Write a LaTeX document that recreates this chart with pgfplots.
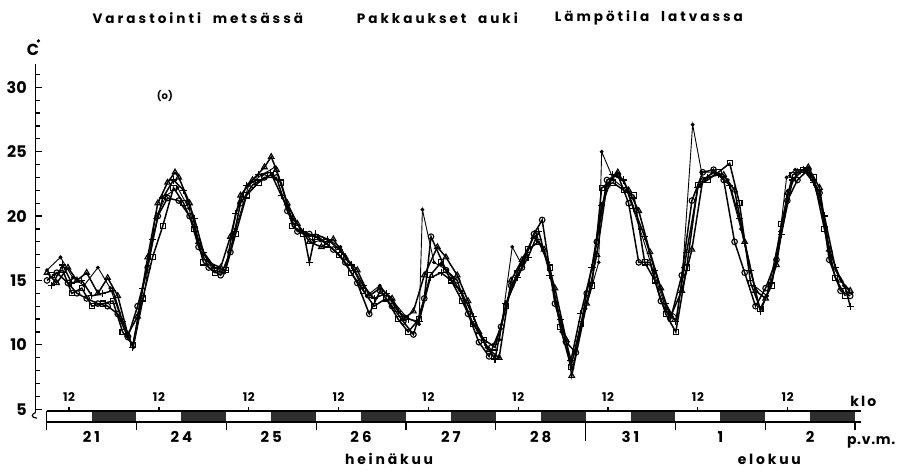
\documentclass[border=0pt]{standalone}
\usepackage{fontspec}
\setmainfont{Poppins}
\usepackage{pgfplots}
\pgfplotsset{compat=1.18}
\newcommand{\lab}[1]{\bfseries\addfontfeatures{LetterSpace=#1}}
\begin{document}
\begin{tikzpicture}
\begin{axis}[
  x=1.875pt, y=6.45pt,
  xmin=-2.9, xmax=218, ymin=4.75, ymax=31.8,
  axis x line=none, axis y line=left,
  axis line style={-, line width=0.7pt},
  ytick={5,10,...,30},
  minor ytick={6,7,8,9,11,12,13,14,16,17,18,19,21,22,23,24,26,27,28,29,31},
  tick align=inside, ytick pos=left,
  major tick length=3pt, minor tick length=2pt,
  tick style={line width=0.6pt, black},
  /pgf/number format/assume math mode=true,
  yticklabel style={font=\bfseries\fontsize{8}{8}\selectfont, xshift=-1pt},
  clip=false,
  every axis plot/.append style={black, line width=0.75pt},
]
% invisible frame fixing the picture's extent
\path (axis cs:-12.45,0.43) rectangle (axis cs:228.1,36.78);

% series 1: circles
\addplot[mark=o, mark size=1.4pt, mark options={fill=white, line width=0.55pt}] coordinates {
(0.1,15.0)(2.7,15.6)(5.7,14.8)(8.1,14.0)(10.7,13.6)(13.7,13.2)(16.3,13.0)(19.0,12.4)(21.7,10.6)(24.3,13.0)
(27.0,16.0)(29.7,20.0)(32.3,21.4)(35.3,21.2)(38.2,20.0)(40.6,17.6)(43.3,16.0)(46.5,15.4)(49.1,17.2)(51.8,21.0)
(55.0,22.4)(58.2,23.0)(61.4,23.0)(64.3,20.4)(67.0,18.8)(70.2,18.6)(73.4,18.2)(76.6,17.4)(79.8,16.4)(83.0,14.8)
(86.2,12.4)(89.1,14.2)(92.3,13.0)(95.3,11.8)(98.0,10.8)(100.9,13.6)(102.7,18.4)(106.7,15.8)(109.7,15.0)(112.6,12.4)
(115.5,10.2)(118.2,9.1)(121.4,11.4)(124.1,14.6)(127.0,16.0)(130.2,18.6)(132.4,19.7)(135.8,13.2)(138.8,10.2)(141.4,9.4)
(144.3,14.0)(147.0,18.0)(149.7,22.8)(152.6,23.2)(155.5,21.0)(158.2,16.4)(161.2,16.4)(164.1,13.4)(166.7,12.0)(169.7,15.4)
(172.4,21.2)(175.3,23.4)(178.2,23.6)(180.9,22.8)(183.8,18.0)(186.5,15.6)(189.4,13.0)(192.1,14.4)(195.0,16.6)(197.9,21.2)
(200.6,22.8)(203.5,23.6)(206.5,21.8)(209.1,16.6)(212.1,14.2)(214.7,13.8)
};
% series 2: squares
\addplot[mark=square, mark size=1.3pt, mark options={fill=white, line width=0.55pt}] coordinates {
(1.4,15.4)(4.3,15.8)(6.7,14.0)(9.4,14.4)(12.1,13.0)(15.0,13.2)(17.7,13.4)(20.3,11.0)(23.0,10.0)(25.7,13.6)
(28.3,16.8)(31.0,19.2)(33.9,22.2)(36.6,21.0)(39.5,19.0)(41.9,16.4)(44.9,15.6)(47.8,15.8)(50.5,18.6)(53.4,21.6)
(56.6,22.6)(59.8,23.2)(62.7,22.6)(65.7,19.2)(68.6,18.6)(71.8,18.4)(75.0,17.8)(78.2,17.0)(81.4,15.6)(84.6,14.2)
(87.5,13.0)(90.7,13.6)(93.9,12.0)(96.6,11.0)(99.5,12.0)(102.5,15.4)(105.4,16.4)(108.1,15.0)(111.0,13.4)(114.0,11.6)
(116.9,10.4)(119.8,9.8)(122.7,13.0)(125.7,15.6)(128.6,17.4)(131.5,18.0)(134.5,16.0)(137.2,11.4)(140.1,8.3)(142.7,11.6)
(145.7,14.6)(148.3,22.2)(151.3,22.6)(154.2,22.0)(156.9,21.6)(159.8,16.4)(162.5,15.0)(165.4,12.4)(168.1,11.0)(171.0,16.0)
(174.0,22.4)(176.6,22.8)(179.5,23.4)(182.5,24.1)(185.1,21.0)(188.1,14.8)(190.7,12.8)(193.7,14.6)(196.3,19.4)(199.3,23.2)
(202.2,23.6)(204.9,23.0)(207.8,19.0)(210.7,15.2)(213.4,13.8)
};
% series 3: triangles
\addplot[mark=triangle, mark size=1.6pt, mark options={fill=white, line width=0.55pt}] coordinates {
(0.1,15.6)(2.7,14.8)(5.7,16.0)(8.1,15.0)(10.7,15.6)(13.7,14.0)(16.3,15.2)(19.0,13.8)(21.7,10.8)(24.3,12.2)
(27.0,16.8)(29.7,21.0)(32.3,22.6)(34.3,23.4)(35.3,23.0)(38.2,21.0)(40.6,18.0)(43.3,16.4)(46.5,16.0)(49.1,18.4)
(51.8,21.6)(55.0,22.8)(58.2,23.8)(60.0,24.6)(61.4,23.6)(64.3,21.0)(67.0,19.4)(70.2,18.0)(73.4,17.6)(76.6,18.2)
(79.8,16.8)(83.0,15.8)(86.2,13.8)(89.1,14.4)(92.3,13.6)(95.3,12.0)(98.0,12.6)(100.9,15.4)(104.4,17.6)(106.7,16.8)
(109.7,15.4)(112.6,13.4)(115.5,11.0)(118.2,9.6)(120.9,9.0)(124.1,15.0)(127.0,16.6)(130.2,18.4)(132.9,17.4)(135.8,14.4)
(138.8,10.4)(140.3,7.6)(144.3,13.2)(147.0,17.0)(149.7,22.4)(152.6,23.4)(155.5,22.0)(158.2,20.4)(161.2,17.2)(164.1,14.4)
(166.7,12.2)(169.7,14.2)(172.4,17.4)(175.3,22.8)(178.2,23.4)(180.9,23.2)(183.8,22.0)(186.5,18.0)(189.4,14.2)(192.1,13.6)
(195.0,16.2)(197.9,21.8)(200.6,23.4)(203.5,23.8)(206.5,22.2)(209.1,17.4)(212.1,15.0)(214.7,14.2)
};
% series 4: plus
\addplot[mark=+, mark size=1.8pt, mark options={line width=0.55pt}] coordinates {
(1.4,14.6)(4.3,16.2)(6.7,14.8)(9.4,15.0)(12.1,13.8)(15.0,14.0)(17.7,14.2)(20.3,11.8)(23.0,9.8)(25.7,14.4)
(28.3,18.2)(31.0,21.4)(33.9,22.8)(36.6,22.0)(39.5,19.8)(41.9,17.2)(44.9,16.0)(47.8,15.8)(50.5,20.2)(53.4,22.4)
(56.6,23.2)(59.8,23.4)(62.7,21.6)(65.7,19.8)(68.6,18.8)(70.2,16.4)(71.8,18.6)(75.0,18.2)(78.2,17.4)(81.4,16.2)
(84.6,14.6)(87.5,13.6)(90.7,14.0)(93.9,12.6)(96.6,12.0)(99.5,11.8)(102.5,15.2)(105.4,15.6)(108.1,15.0)(111.0,14.0)
(114.0,12.2)(116.9,10.2)(119.8,8.9)(122.7,13.2)(125.7,15.2)(128.6,16.8)(131.5,18.8)(134.5,15.4)(137.2,12.0)(140.1,8.8)
(142.7,12.4)(145.7,16.0)(148.3,20.8)(151.3,23.2)(154.2,22.8)(156.9,20.6)(159.8,18.4)(162.5,15.8)(165.4,13.2)(168.1,11.8)
(171.0,17.2)(174.0,22.2)(176.6,23.0)(179.5,23.2)(182.5,22.4)(185.1,19.8)(188.1,15.8)(190.7,12.6)(193.7,14.8)(196.3,18.6)
(199.3,22.8)(202.2,23.6)(204.9,22.6)(207.8,20.0)(210.7,16.0)(213.4,14.4)(214.7,13.0)
};
% series 5: dots
\addplot[mark=*, mark size=0.7pt, line width=0.45pt] coordinates {
(0.1,15.8)(3.7,16.8)(7.0,15.2)(10.0,14.6)(13.7,16.0)(17.0,14.4)(20.0,12.0)(23.2,9.8)(26.0,13.8)(29.0,19.8)
(32.0,21.6)(35.0,22.2)(38.0,20.6)(41.0,17.4)(44.5,16.0)(47.5,15.6)(50.5,19.0)(54.0,22.4)(57.5,23.2)(61.0,23.8)
(64.5,20.8)(68.0,18.8)(71.5,18.0)(75.0,18.2)(78.5,17.6)(82.0,15.8)(85.5,13.8)(89.0,14.6)(92.5,13.4)(96.0,12.2)
(99.5,11.6)(100.4,20.5)(103.5,16.4)(107.0,15.8)(110.5,14.2)(114.0,11.6)(117.5,9.8)(121.0,10.4)(124.4,17.6)(127.0,16.2)
(130.5,18.8)(134.0,16.4)(137.5,11.0)(140.5,8.2)(144.0,12.8)(147.5,16.4)(148.3,25.0)(151.5,22.8)(155.0,22.0)(158.5,19.0)
(162.0,15.8)(165.5,12.8)(168.5,12.2)(170.0,16.0)(172.6,27.1)(175.0,23.4)(178.5,23.4)(182.0,22.8)(185.5,19.0)(189.0,14.6)
(192.5,13.8)(196.0,18.8)(197.7,23.0)(200.0,23.6)(203.0,23.6)(206.5,21.6)(209.5,16.4)(213.0,14.6)(215.0,14.0)
};

% day / night bar
\fill[black!82] (axis cs:12,4.0) rectangle (axis cs:24,4.85);
\fill[black!82] (axis cs:36,4.0) rectangle (axis cs:48,4.85);
\fill[black!82] (axis cs:60,4.0) rectangle (axis cs:72,4.85);
\fill[black!82] (axis cs:84,4.0) rectangle (axis cs:96,4.85);
\fill[black!82] (axis cs:108,4.0) rectangle (axis cs:120,4.85);
\fill[black!82] (axis cs:132,4.0) rectangle (axis cs:144,4.85);
\fill[black!82] (axis cs:156,4.0) rectangle (axis cs:168,4.85);
\fill[black!82] (axis cs:180,4.0) rectangle (axis cs:192,4.85);
\fill[black!82] (axis cs:204,4.0) rectangle (axis cs:216,4.85);
\draw[line width=0.7pt] (axis cs:0,4.85) -- (axis cs:217.6,4.85);
\draw[line width=0.7pt] (axis cs:0,4.0) -- (axis cs:217.6,4.0);
\draw[line width=0.7pt] (axis cs:0,4.85) -- (axis cs:0,3.4);
\pgfplotsinvokeforeach{24,48,72,96,120,168,192,216}{
  \draw[line width=0.6pt] (axis cs:#1,4.0) -- (axis cs:#1,3.4);
}
\draw[line width=0.6pt] (axis cs:144,4.0) -- (axis cs:144,2.5);
\pgfplotsinvokeforeach{6,30,54,78,102,126,150,174,198}{
  \draw[line width=0.6pt] (axis cs:#1,4.85) -- (axis cs:#1,5.2);
  \node[font=\lab{5}\fontsize{6}{6}\selectfont] at (axis cs:#1,5.95) {12};
}
% axis break
\draw[line width=0.6pt] (axis cs:-2.9,4.75) .. controls (axis cs:-4.2,4.6) and (axis cs:-4.2,4.35) .. (axis cs:-2.6,4.3);

% date labels
\node[font=\lab{20}\fontsize{7.5}{7.5}\selectfont] at (axis cs:12,2.85) {21};
\node[font=\lab{20}\fontsize{7.5}{7.5}\selectfont] at (axis cs:36,2.85) {24};
\node[font=\lab{20}\fontsize{7.5}{7.5}\selectfont] at (axis cs:60,2.85) {25};
\node[font=\lab{20}\fontsize{7.5}{7.5}\selectfont] at (axis cs:84,2.85) {26};
\node[font=\lab{20}\fontsize{7.5}{7.5}\selectfont] at (axis cs:108,2.85) {27};
\node[font=\lab{20}\fontsize{7.5}{7.5}\selectfont] at (axis cs:132,2.85) {28};
\node[font=\lab{20}\fontsize{7.5}{7.5}\selectfont] at (axis cs:156,2.85) {31};
\node[font=\lab{20}\fontsize{7.5}{7.5}\selectfont] at (axis cs:180,2.85) {1};
\node[font=\lab{20}\fontsize{7.5}{7.5}\selectfont] at (axis cs:204,2.85) {2};
\node[font=\lab{20}\fontsize{7}{7}\selectfont] at (axis cs:91.5,1.1) {heinäkuu};
\node[font=\lab{20}\fontsize{7}{7}\selectfont] at (axis cs:193.1,1.1) {elokuu};
\node[font=\lab{15}\fontsize{7}{7}\selectfont] at (axis cs:218.2,5.6) {klo};
\node[font=\lab{5}\fontsize{7}{7}\selectfont] at (axis cs:220.3,2.4) {p.v.m.};

% titles
\node[font=\lab{22}\fontsize{6.8}{6.8}\selectfont] at (axis cs:40.4,35.4) {Varastointi \ metsässä};
\node[font=\lab{22}\fontsize{6.8}{6.8}\selectfont] at (axis cs:104.4,35.4) {Pakkaukset \ auki};
\node[font=\lab{22}\fontsize{6.8}{6.8}\selectfont] at (axis cs:160.9,35.4) {Lämpötila \ latvassa};
\node[font=\bfseries\fontsize{5}{5}\selectfont] at (axis cs:31.6,29.3) {(o)};
% unit
\node[font=\bfseries\fontsize{8}{8}\selectfont] at (axis cs:-3.65,32.9) {C};
\fill (axis cs:-2.2,33.6) circle (0.9pt);
\end{axis}
\end{tikzpicture}
\end{document}
